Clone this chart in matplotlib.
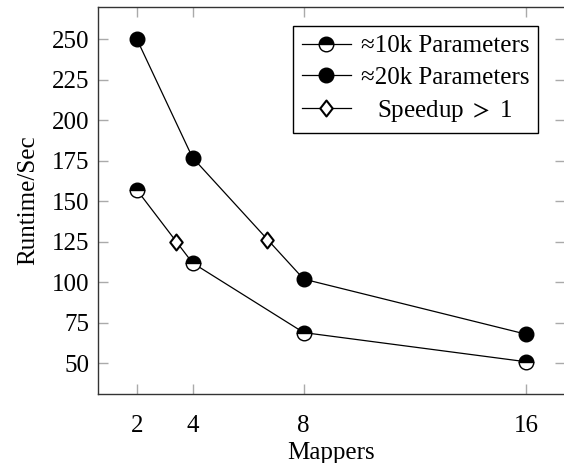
import matplotlib
matplotlib.use("Agg")
import matplotlib.pyplot as plt
from matplotlib.lines import Line2D
from matplotlib.path import Path
from matplotlib.transforms import Affine2D

plt.rcParams['font.family'] = ['Liberation Serif', 'DejaVu Serif']
plt.rcParams['mathtext.fontset'] = 'stix'

mappers = [2, 4, 8, 16]
runtime_10k = [157, 112, 69, 51]
runtime_20k = [250, 177, 102, 68]
speedup_x = [3.42, 6.68]
speedup_y = [125, 126]
xticks = [2, 4, 8, 16]
yticks = [50, 75, 100, 125, 150, 175, 200, 225, 250]

FS = 18
diamond = Path([(0, 1), (0.78, 0), (0, -1), (-0.78, 0), (0, 1)],
               [Path.MOVETO, Path.LINETO, Path.LINETO, Path.LINETO, Path.CLOSEPOLY])

fig = plt.figure(figsize=(5.64, 4.63), dpi=100)
ax = fig.add_axes([98/564, (463-394)/463, 467/564, 387/463])

lw = 0.9
ms = 10.5
dms = 11.5
ax.plot(mappers, runtime_10k, color='black', lw=lw, marker='o', markersize=ms,
        fillstyle='top', markerfacecolor='black', markerfacecoloralt='white',
        markeredgecolor='black', markeredgewidth=1.0, zorder=3)
ax.plot(mappers, runtime_20k, color='black', lw=lw, marker='o', markersize=ms,
        markerfacecolor='black', markeredgecolor='black', markeredgewidth=1.0, zorder=3)
ax.plot(speedup_x, speedup_y, linestyle='none', marker=diamond, markersize=dms,
        markerfacecolor='white', markeredgecolor='black', markeredgewidth=1.5, zorder=4)

ax.set_xlim(0.6, 17.4)
ax.set_ylim(31.1, 269.9)
ax.set_xticks(xticks)
ax.set_yticks(yticks)
ax.set_xticklabels([str(v) for v in xticks])
ax.set_yticklabels([str(v) for v in yticks])
ax.tick_params(direction='in', length=7, width=1.0, color='#aaaaaa',
               labelsize=FS, top=True, right=True)
ax.tick_params(axis='x', pad=15)
ax.tick_params(axis='y', pad=6)
for s in ax.spines.values():
    s.set_color('#333333')
    s.set_linewidth(1.0)

ax.set_xlabel('Mappers', fontsize=FS, labelpad=4)
ax.set_ylabel('Runtime/Sec', fontsize=FS, labelpad=9)

h1 = Line2D([], [], color='black', lw=lw, marker='o', markersize=ms, fillstyle='top',
            markerfacecolor='black', markerfacecoloralt='white', markeredgecolor='black',
            markeredgewidth=1.0)
h2 = Line2D([], [], color='black', lw=lw, marker='o', markersize=ms,
            markerfacecolor='black', markeredgecolor='black', markeredgewidth=1.0)
h3 = Line2D([], [], color='black', lw=lw, marker=diamond, markersize=dms,
            markerfacecolor='white', markeredgecolor='black', markeredgewidth=1.5)
leg = ax.legend([h1, h2, h3],
                ['≈10k Parameters', '≈20k Parameters', r'Speedup $>$ 1'],
                loc='upper right', bbox_to_anchor=(538/564, 1 - 26/463),
                bbox_transform=fig.transFigure, fontsize=FS, frameon=True,
                fancybox=False, edgecolor='black', framealpha=1,
                handlelength=1.95, handletextpad=0.4, labelspacing=0.36,
                borderpad=0.35, borderaxespad=0)
leg.get_frame().set_linewidth(1.0)

fig.canvas.draw()
texts = leg.get_texts()
r = fig.canvas.get_renderer()
widths = [t.get_window_extent(r).width for t in texts]
dx = (max(widths) - widths[2]) / 2
texts[2].set_transform(texts[2].get_transform() + Affine2D().translate(dx, 0))

fig.savefig('out.png', dpi=100)
